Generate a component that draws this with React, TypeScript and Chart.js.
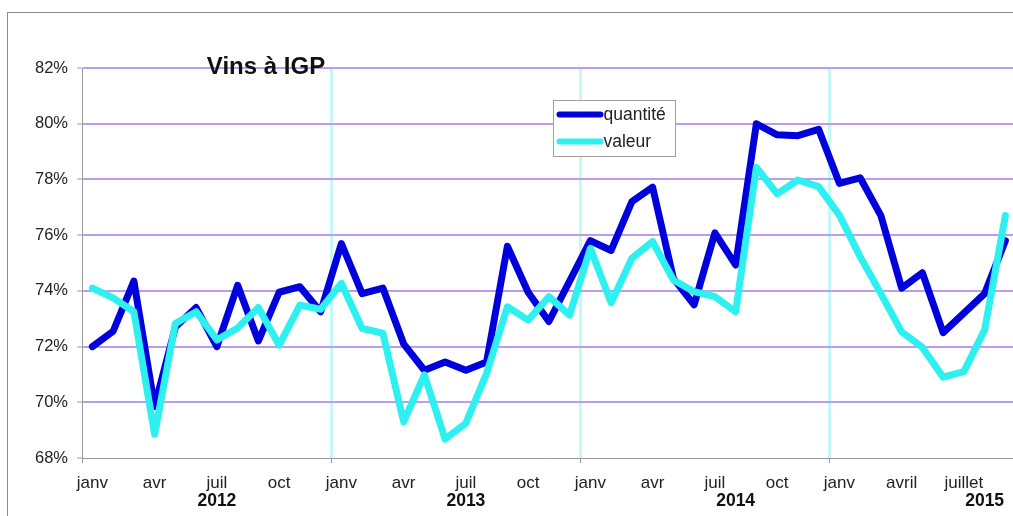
import { useEffect, useRef } from 'react';
import { Chart, registerables } from 'chart.js';

Chart.register(...registerables);

const categories: string[] = [
  '2012-01', '2012-02', '2012-03', '2012-04', '2012-05', '2012-06', '2012-07', '2012-08', '2012-09', '2012-10', '2012-11', '2012-12',
  '2013-01', '2013-02', '2013-03', '2013-04', '2013-05', '2013-06', '2013-07', '2013-08', '2013-09', '2013-10', '2013-11', '2013-12',
  '2014-01', '2014-02', '2014-03', '2014-04', '2014-05', '2014-06', '2014-07', '2014-08', '2014-09', '2014-10', '2014-11', '2014-12',
  '2015-01', '2015-02', '2015-03', '2015-04', '2015-05', '2015-06', '2015-07', '2015-08', '2015-09',
];

const monthTickLabels: string[] = [
  'janv', '', '', 'avr', '', '', 'juil', '', '', 'oct', '', '',
  'janv', '', '', 'avr', '', '', 'juil', '', '', 'oct', '', '',
  'janv', '', '', 'avr', '', '', 'juil', '', '', 'oct', '', '',
  'janv', '', '', 'avril', '', '', 'juillet', '', '',
];

const yearLabels: string[] = ['2012', '2013', '2014', '2015'];
const yearLabelIndex: number[] = [6, 18, 31, 43];
const yearBoundaryIndex: number[] = [12, 24, 36];

const quantite: number[] = [
  72.0, 72.55, 74.35, 69.85, 72.7, 73.4, 72.0, 74.2, 72.2, 73.95, 74.15, 73.25,
  75.7, 73.9, 74.1, 72.1, 71.15, 71.45, 71.15, 71.45, 75.6, 73.95, 72.9, 74.35,
  75.8, 75.45, 77.2, 77.72, 74.45, 73.5, 76.08, 74.93, 80.0, 79.6, 79.57, 79.8,
  77.86, 78.06, 76.7, 74.1, 74.65, 72.5, 73.2, 73.9, 75.8,
];

const valeur: number[] = [
  74.1, 73.75, 73.25, 68.85, 72.83, 73.25, 72.24, 72.67, 73.4, 72.05, 73.49, 73.34,
  74.27, 72.65, 72.48, 69.3, 70.98, 68.68, 69.25, 71.04, 73.43, 72.95, 73.79, 73.13,
  75.53, 73.57, 75.17, 75.77, 74.39, 73.97, 73.79, 73.25, 78.43, 77.48, 77.98, 77.74,
  76.72, 75.23, 73.9, 72.53, 71.97, 70.9, 71.1, 72.6, 76.7,
];

const seriesLabels: string[] = ['quantité', 'valeur'];
const seriesColors: string[] = ['#0000dc', '#2ef0f0'];
const chartTitle = 'Vins à IGP';

const FONT = "'Liberation Sans', Arial, sans-serif";
const TRANSPARENT = 'rgba(0,0,0,0)';

const decorPlugin = {
  id: 'decor',
  beforeDraw(chart: any) {
    const { ctx, width, height } = chart;
    ctx.save();
    ctx.fillStyle = '#ffffff';
    ctx.fillRect(0, 0, width, height);
    ctx.strokeStyle = '#8a8a8a';
    ctx.lineWidth = 1;
    ctx.strokeRect(7.5, 12.5, width + 20, height + 20);
    ctx.restore();
  },
  afterDraw(chart: any) {
    const { ctx, chartArea } = chart;
    ctx.save();
    // title
    ctx.font = `bold 24px ${FONT}`;
    ctx.fillStyle = '#111';
    ctx.textAlign = 'center';
    ctx.textBaseline = 'alphabetic';
    ctx.fillText(chartTitle, chartArea.left + 184, chartArea.top + 6);
    // legend
    const bx = chartArea.left + 471.5;
    const by = chartArea.top + 32.5;
    ctx.fillStyle = '#ffffff';
    ctx.fillRect(bx, by, 122, 56);
    ctx.strokeStyle = '#a0a0a0';
    ctx.lineWidth = 1;
    ctx.strokeRect(bx, by, 122, 56);
    ctx.textAlign = 'left';
    ctx.textBaseline = 'middle';
    ctx.font = `17.5px ${FONT}`;
    seriesLabels.forEach((lab, i) => {
      const yy = by + 14 + i * 27;
      ctx.strokeStyle = seriesColors[i];
      ctx.lineWidth = 6;
      ctx.lineCap = 'round';
      ctx.beginPath();
      ctx.moveTo(bx + 6, yy);
      ctx.lineTo(bx + 47, yy);
      ctx.stroke();
      ctx.fillStyle = '#222';
      ctx.fillText(lab, bx + 50, yy + 1);
    });
    ctx.restore();
  },
};

export default function App() {
  const ref = useRef<HTMLCanvasElement | null>(null);

  useEffect(() => {
    if (!ref.current) return;
    const chart = new Chart(ref.current, {
      type: 'line',
      data: {
        labels: categories,
        datasets: [
          {
            label: seriesLabels[0],
            data: quantite,
            borderColor: seriesColors[0],
            backgroundColor: seriesColors[0],
            borderWidth: 7,
            pointRadius: 0,
            tension: 0,
            borderJoinStyle: 'round',
            borderCapStyle: 'round',
            order: 2,
          },
          {
            label: seriesLabels[1],
            data: valeur,
            borderColor: seriesColors[1],
            backgroundColor: seriesColors[1],
            borderWidth: 7,
            pointRadius: 0,
            tension: 0,
            borderJoinStyle: 'round',
            borderCapStyle: 'round',
            order: 1,
          },
        ],
      },
      options: {
        animation: false,
        responsive: false,
        maintainAspectRatio: false,
        layout: { padding: { left: 0, top: 68, right: 24.25, bottom: 2 } },
        plugins: {
          legend: { display: false },
          title: { display: false },
          tooltip: { enabled: false },
        },
        scales: {
          x: {
            type: 'category',
            position: 'bottom',
            offset: true,
            grid: {
              offset: true,
              color: (c: any) => (yearBoundaryIndex.includes(c.index) ? '#c6f8f8' : TRANSPARENT),
              lineWidth: 3,
              tickColor: (c: any) => (c.index % 12 === 0 ? '#999' : TRANSPARENT),
              tickWidth: 1,
              tickLength: 5,
            },
            border: { color: '#999', width: 1 },
            ticks: {
              autoSkip: false,
              maxRotation: 0,
              minRotation: 0,
              padding: 10,
              color: '#222',
              font: { family: FONT, size: 17 },
              callback: (_v: any, i: number) => monthTickLabels[i],
            },
            afterFit: (s: any) => {
              s.height = 35;
            },
          },
          x2: {
            type: 'category',
            position: 'bottom',
            offset: true,
            grid: { display: false, drawTicks: false },
            border: { display: false },
            ticks: {
              autoSkip: false,
              maxRotation: 0,
              minRotation: 0,
              padding: -2,
              color: '#111',
              font: { family: FONT, size: 17.5, weight: 'bold' },
              callback: (_v: any, i: number) => {
                const k = yearLabelIndex.indexOf(i);
                return k >= 0 ? yearLabels[k] : '';
              },
            },
            afterFit: (s: any) => {
              s.height = 21;
            },
          },
          y: {
            min: 68,
            max: 82,
            grid: {
              color: (c: any) => (c.tick && c.tick.value === 68 ? TRANSPARENT : '#bb9cf0'),
              lineWidth: 2,
              tickColor: '#999',
              tickWidth: 1,
              tickLength: 5,
            },
            border: { color: '#999', width: 1 },
            ticks: {
              stepSize: 2,
              padding: 9,
              color: '#222',
              font: { family: FONT, size: 16.5 },
              callback: (v: any) => `${v}%`,
            },
            afterFit: (s: any) => {
              s.width = 82;
            },
          },
        },
      },
      plugins: [decorPlugin],
    });
    return () => chart.destroy();
  }, []);

  return (
    <div style={{ position: 'fixed', left: 0, top: 0, width: 1013, height: 516, overflow: 'hidden', background: '#fff' }}>
      <canvas ref={ref} width={1040} height={516} style={{ display: 'block', width: 1040, height: 516 }} />
    </div>
  );
}
